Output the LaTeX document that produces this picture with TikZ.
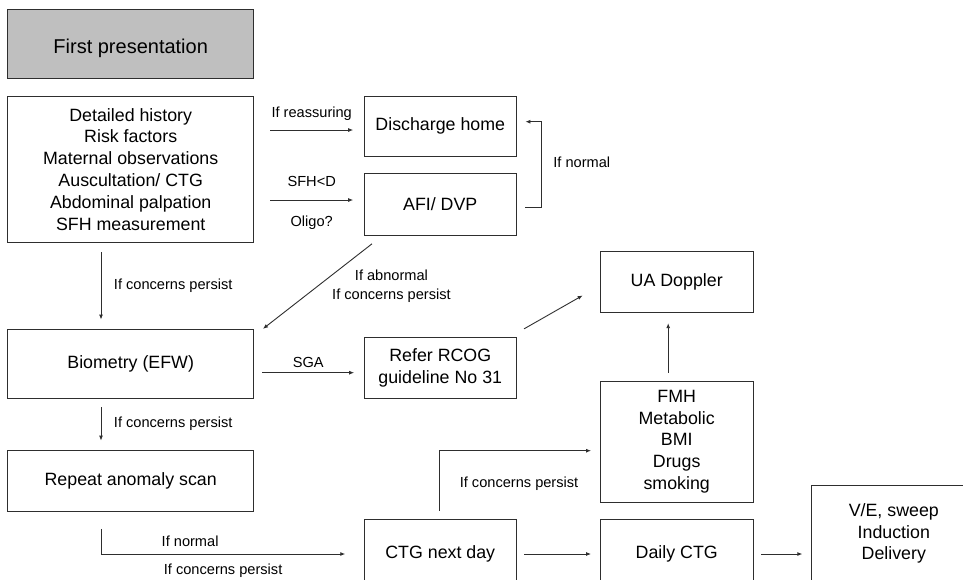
\documentclass[tikz,border=0pt]{standalone}
\usepackage{fontspec}
\setmainfont{Liberation Sans}
\usetikzlibrary{arrows.meta,calc}
\begin{document}
\begin{tikzpicture}[x=1pt,y=-1pt,
  linecol/.style={draw=black!82, line width=0.9pt},
  box/.style={linecol, rectangle, inner sep=0pt, align=center, font=\fontsize{17.8}{21.8}\selectfont},
  titlebox/.style={box, fill=black!25, font=\fontsize{20}{24}\selectfont},
  lab/.style={font=\fontsize{14.6}{18.3}\selectfont, inner sep=0pt, align=center},
  arr/.style={linecol, -{Latex[length=5pt,width=4pt]}}]
\useasboundingbox (0,0) rectangle (963,579);
\clip (0,0) rectangle (963,579);
% boxes
\node[titlebox, minimum width=246.2pt, minimum height=69pt, label={[yshift=-5pt, font=\fontsize{20}{24}\selectfont]center:First presentation}] (first) at (130.7,43.8) {};
\node[box, minimum width=246.2pt, minimum height=146.3pt] (detailed) at (130.7,169.2)
  {Detailed history\\ Risk factors\\ Maternal observations\\ Auscultation/ CTG\\ Abdominal palpation\\ SFH measurement};
\node[box, minimum width=152.5pt, minimum height=60pt] (discharge) at (440.25,126) {Discharge home};
\node[box, minimum width=152.5pt, minimum height=61.3pt] (afi) at (440.25,204.4) {AFI/ DVP};
\node[box, minimum width=246.2pt, minimum height=69pt] (biometry) at (130.7,363.8) {Biometry (EFW)};
\node[box, minimum width=152.5pt, minimum height=60.6pt] (refer) at (440.25,368) {Refer RCOG\\ guideline No 31};
\node[box, minimum width=246.2pt, minimum height=60.7pt] (repeat) at (130.7,480.7) {Repeat anomaly scan};
\node[box, minimum width=153pt, minimum height=60.6pt] (ua) at (676.7,282) {UA Doppler};
\node[box, minimum width=153pt, minimum height=121.3pt] (fmh) at (676.7,441.7) {FMH\\ Metabolic\\ BMI\\ Drugs\\ smoking};
\node[box, minimum width=152.5pt, minimum height=68.7pt] (ctg) at (440.25,553.7) {CTG next day};
\node[box, minimum width=153pt, minimum height=68.7pt] (daily) at (676.7,553.7) {Daily CTG};
\node[box, minimum width=164.4pt, minimum height=97pt] (ve) at (893.8,533.5) {V/E, sweep\\ Induction\\ Delivery};
% connectors
\draw[arr] ($(detailed.east|-0,130)+(16,0)$) -- node[lab, yshift=16.7pt] (l1) {If reassuring} ($(discharge.west|-0,130)+(-10.4,0)$);
\draw[arr] ($(detailed.east|-0,200)+(16,0)$) -- node[lab, yshift=18.3pt] (l2) {SFH<D} node[lab, yshift=-22.7pt] (l3) {Oligo?} ($(afi.west|-0,200)+(-10.4,0)$);
\draw[arr] ($(afi.east|-0,207.7)+(8.2,0)$) -| node[lab, pos=0.75, right=11.5pt, yshift=2.5pt] (l4) {If normal} ($(discharge.east|-0,121.7)+(24.5,0)$) -- ($(discharge.east|-0,121.7)+(8.5,0)$);
\draw[arr] ($(detailed.south)+(-29.7,9.4)$) -- node[lab, right=12.5pt] (l5) {If concerns persist} ($(biometry.north)+(-29.7,-9.3)$);
\draw[arr] ($(afi.south)+(-68.25,8.3)$) -- node[lab, pos=0.5, xshift=74pt] (l6) {If abnormal\\ If concerns persist} ($(biometry.north east)+(8.7,0)$);
\draw[arr] ($(biometry.east|-0,372.7)+(8,0)$) -- node[lab, yshift=10pt] (l7) {SGA} ($(refer.west|-0,372.7)+(-9.4,0)$);
\draw[arr] ($(refer.north east)+(7.1,-8.4)$) -- ($(ua.south west)+(-17.1,-17.3)$);
\draw[arr] ($(biometry.south)+(-29.7,8.4)$) -- node[lab, right=12.5pt] (l8) {If concerns persist} ($(repeat.north)+(-29.7,-9.3)$);
\draw[arr] ($(repeat.south)+(-29.7,17.3)$) |- node[lab, pos=0.75, xshift=-33pt, yshift=13pt] (l9) {If normal} node[lab, pos=0.75, yshift=-16.7pt] (l10) {If concerns persist} ($(ctg.west)+(-18.3,0.3)$);
\draw[arr] ($(ctg.north)+(-0.9,-8.3)$) |- node[lab, pos=0.224, right=20pt] (l11) {If concerns persist} ($(fmh.west)+(-8.7,9)$);
\draw[arr] ($(fmh.north)+(-8.5,-7.7)$) -- ($(ua.south)+(-8.5,10.4)$);
\draw[arr] ($(ctg.east)+(7.1,0.3)$) -- ($(daily.west)+(-8.7,0.3)$);
\draw[arr] ($(daily.east)+(7.8,0.3)$) -- ($(ve.west|-daily.west)+(-8.8,0.3)$);
\end{tikzpicture}
\end{document}
